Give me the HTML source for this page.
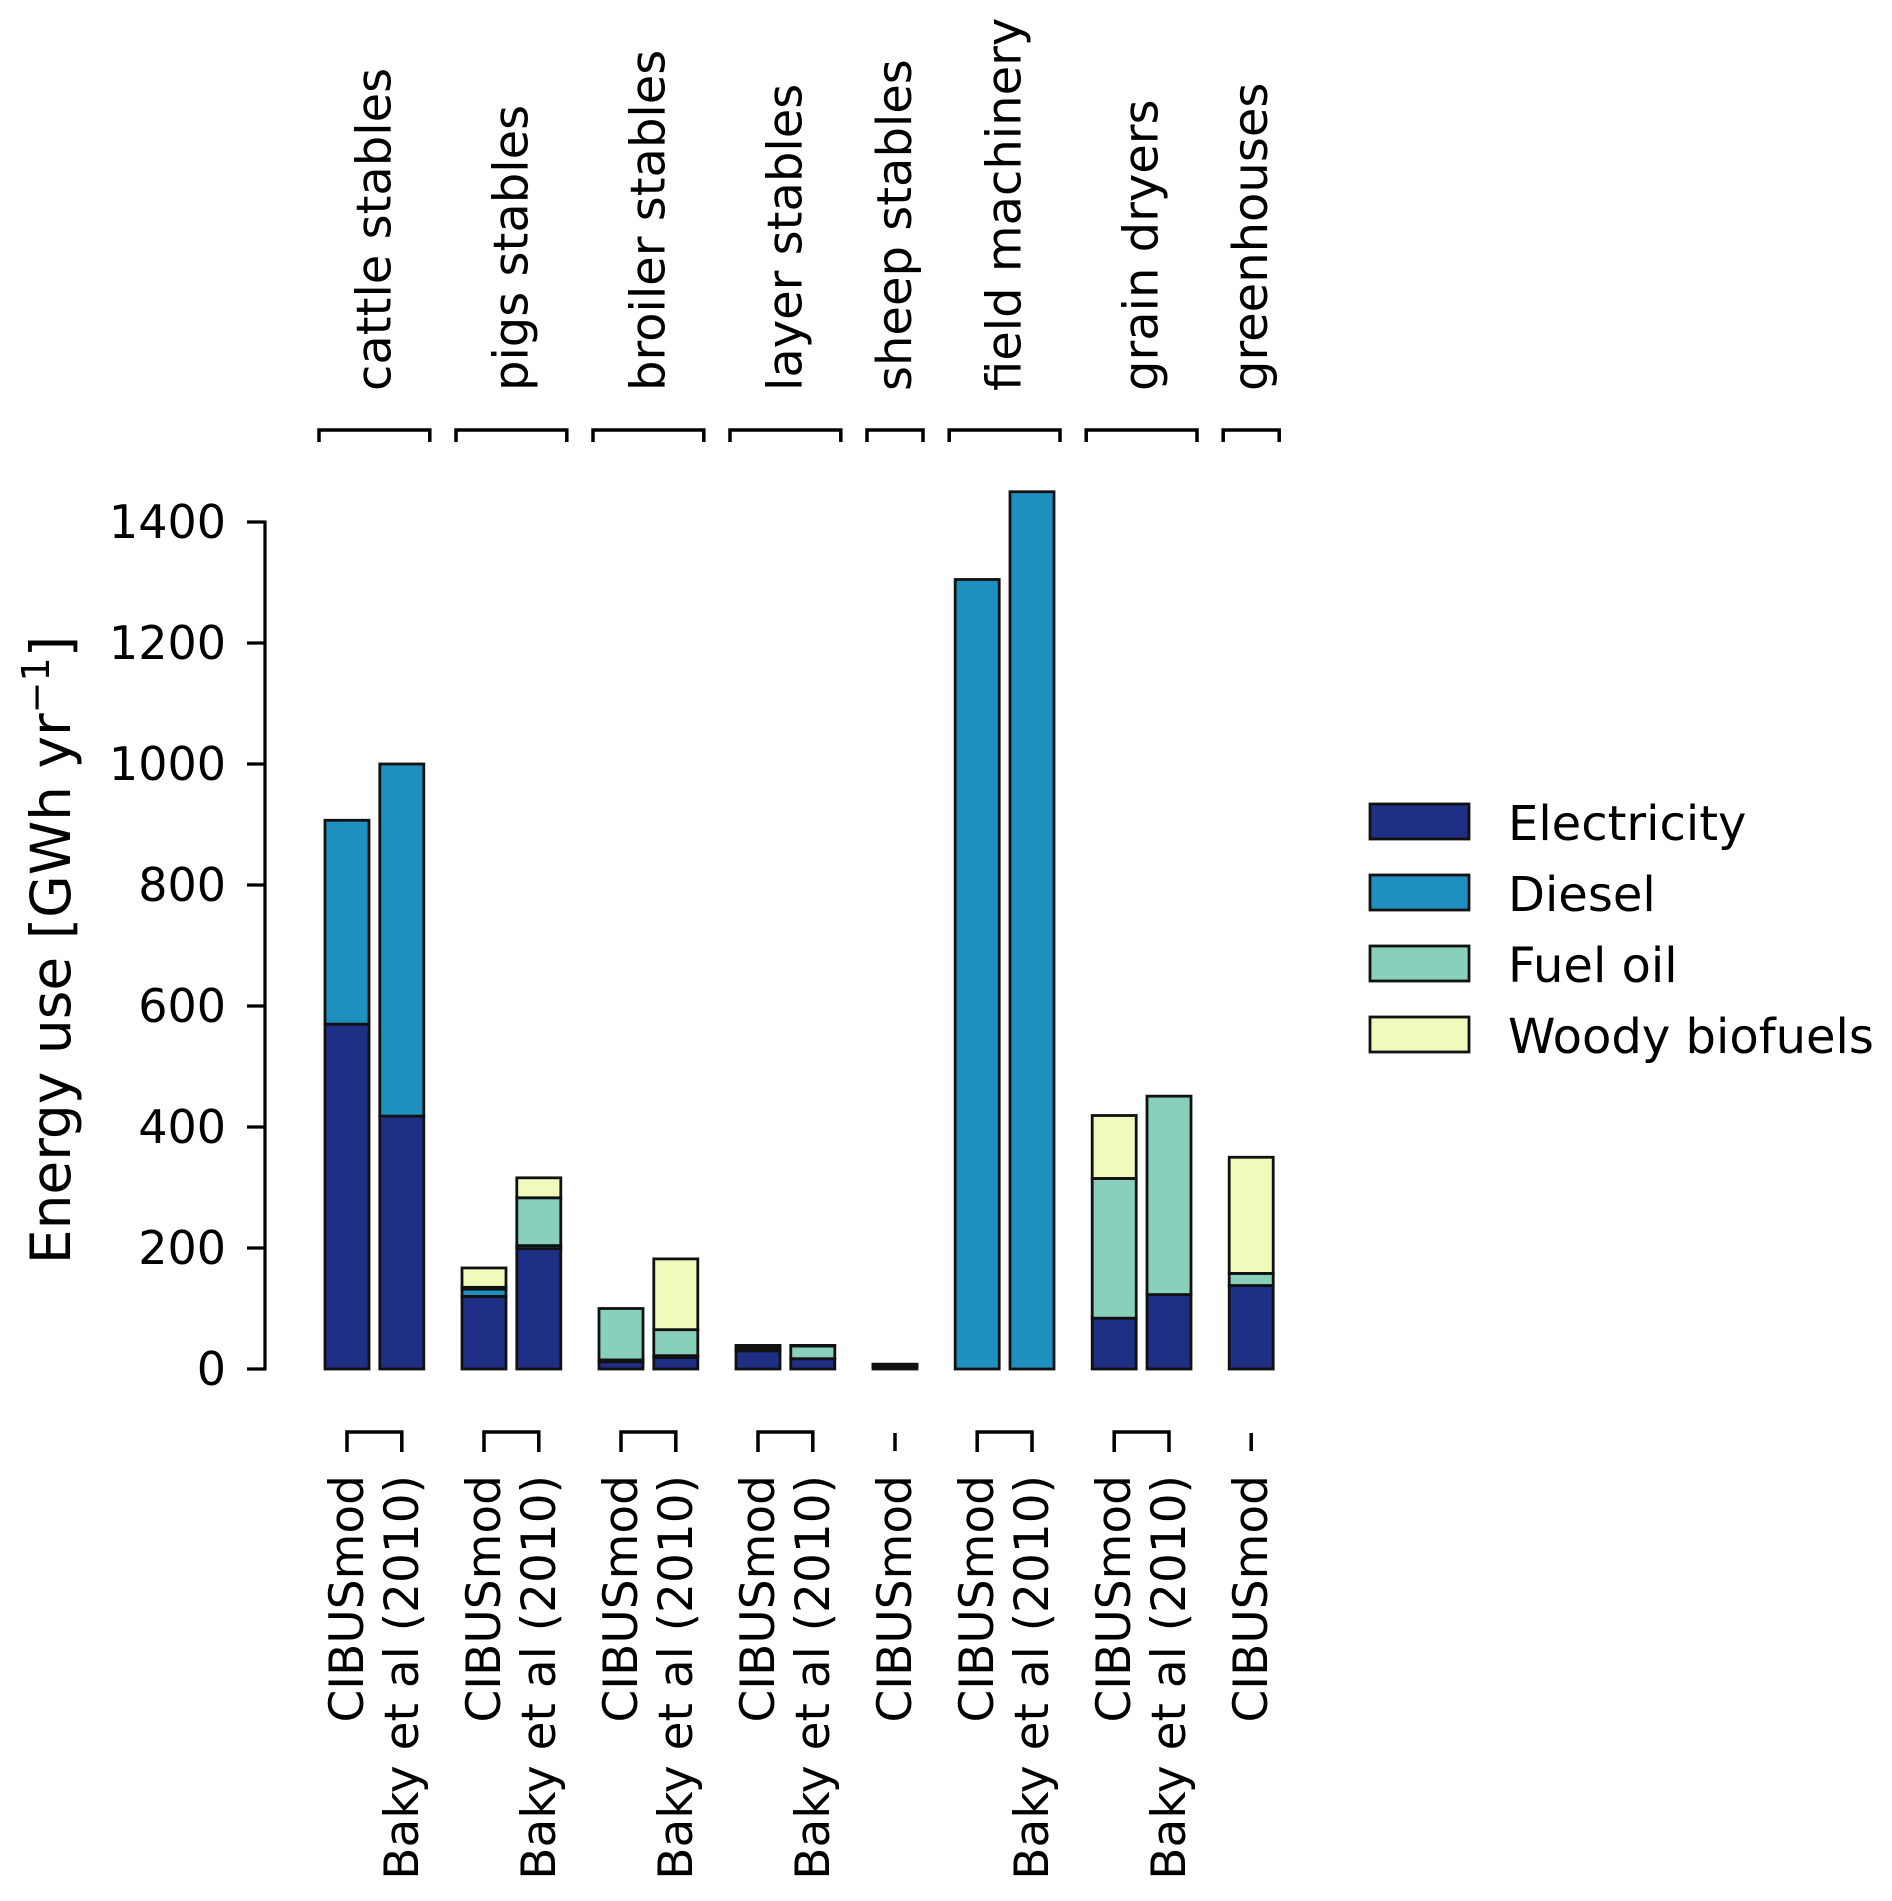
<!DOCTYPE html>
<html><head><meta charset="utf-8"><style>
html,body{margin:0;padding:0;background:#fff;}
svg{display:block;font-family:"DejaVu Sans","Liberation Sans",sans-serif;}
</style></head><body>
<svg id="chart" width="1892" height="1901" viewBox="0 0 1892 1901" xmlns="http://www.w3.org/2000/svg"></svg>
<script>
const groups = ["cattle stables","pigs stables","broiler stables","layer stables","sheep stables","field machinery","grain dryers","greenhouses"];
const sources = [["CIBUSmod","Baky et al (2010)"],["CIBUSmod","Baky et al (2010)"],["CIBUSmod","Baky et al (2010)"],["CIBUSmod","Baky et al (2010)"],["CIBUSmod"],["CIBUSmod","Baky et al (2010)"],["CIBUSmod","Baky et al (2010)"],["CIBUSmod"]];
const seriesNames = ["Electricity","Diesel","Fuel oil","Woody biofuels"];
// values per bar, in bar order
const electricity = [570,418, 120,199, 12,19, 30,17, 4, 0,0, 84,123, 138];
const diesel      = [337,582, 12,5,   3,3,   2,0,  2, 1305,1450, 0,0, 0];
const fuelOil     = [0,0,     3,79,   85,43, 3,21, 1, 0,0, 231,328, 20];
const woody       = [0,0,     32,33,  0,117, 4,1,  1, 0,0, 104,0, 192];
const yTicks = [0,200,400,600,800,1000,1200,1400];

const colors = ["#202f86","#1f8fbf","#88d0bb","#f1f9bb"];
const NS="http://www.w3.org/2000/svg";
const svg=document.getElementById('chart');
const Y0=1369, PX=(1369-522)/1400;
const yS=v=>Y0-v*PX;
const X0=347, SLOT=54.8, BW=44;
const xS=p=>X0+p*SLOT;
function mk(tag,attrs,parent){const e=document.createElementNS(NS,tag);for(const k in attrs)e.setAttribute(k,attrs[k]);(parent||svg).appendChild(e);return e;}

const positions=[];let pos=0;
groups.forEach((g,gi)=>{const arr=[];sources[gi].forEach(()=>{arr.push(pos);pos+=1;});positions.push(arr);pos+=0.5;});

const ax=mk('g',{});


mk('line',{x1:265,y1:yS(0)+1.5,x2:265,y2:yS(1400)-1.5,stroke:'#000','stroke-width':3.2},ax);
yTicks.forEach(t=>{
  const l=mk('line',{x1:247,x2:265,y1:yS(t),y2:yS(t),stroke:'#000','stroke-width':3.2},ax);
  
  
  const tx=mk('text',{x:226,y:yS(t)+16,'text-anchor':'end','font-size':46},ax);
  
  
  tx.textContent=t;
});
const yl=mk('text',{x:0,y:0,transform:'translate(70,950) rotate(-90)','text-anchor':'middle','font-size':55});


yl.innerHTML='Energy use [GWh yr<tspan dy="-21" font-size="38">−1</tspan><tspan dy="21">]</tspan>';

const series=[electricity,diesel,fuelOil,woody];
let bi=0;
groups.forEach((g,gi)=>{
  positions[gi].forEach((p,si)=>{
    let base=0;
    series.forEach((s,k)=>{
      const v=s[bi];
      if(v>0){
        const r=mk('rect',{x:xS(p)-BW/2,y:yS(base+v),width:BW,height:v*PX,fill:colors[k],stroke:'#111','stroke-width':2.8});
        
        
      }
      base+=v;
    });
    const t=mk('text',{x:0,y:0,transform:`translate(${xS(p)+16},1475) rotate(-90)`,'text-anchor':'end','font-size':47});
    
    
    t.textContent=sources[gi][si];
    bi++;
  });
  const ps=positions[gi], a=xS(ps[0]), b=xS(ps[ps.length-1]);
  const tb=mk('path',{d:`M${a-28},442 V430 H${b+28} V442`,fill:'none',stroke:'#000','stroke-width':3.5});
  
  
  const gl=mk('text',{x:0,y:0,transform:`translate(${(a+b)/2+16},391) rotate(-90)`,'font-size':48});
  
  
  gl.textContent=g;
  const bb=mk('path',{d:ps.length>1?`M${a},1452 V1432 H${b} V1452`:`M${a},1433 V1451`,fill:'none',stroke:'#000','stroke-width':3.5});
  
  
});

const lg=mk('g',{});


seriesNames.forEach((n,k)=>{
  const r=mk('rect',{x:1370,y:804+k*71,width:99,height:35,fill:colors[k],stroke:'#111','stroke-width':2.8},lg);
  
  
  const t=mk('text',{x:1508,y:840+k*71,'font-size':48},lg);
  
  
  t.textContent=n;
});
</script>
</body></html>
